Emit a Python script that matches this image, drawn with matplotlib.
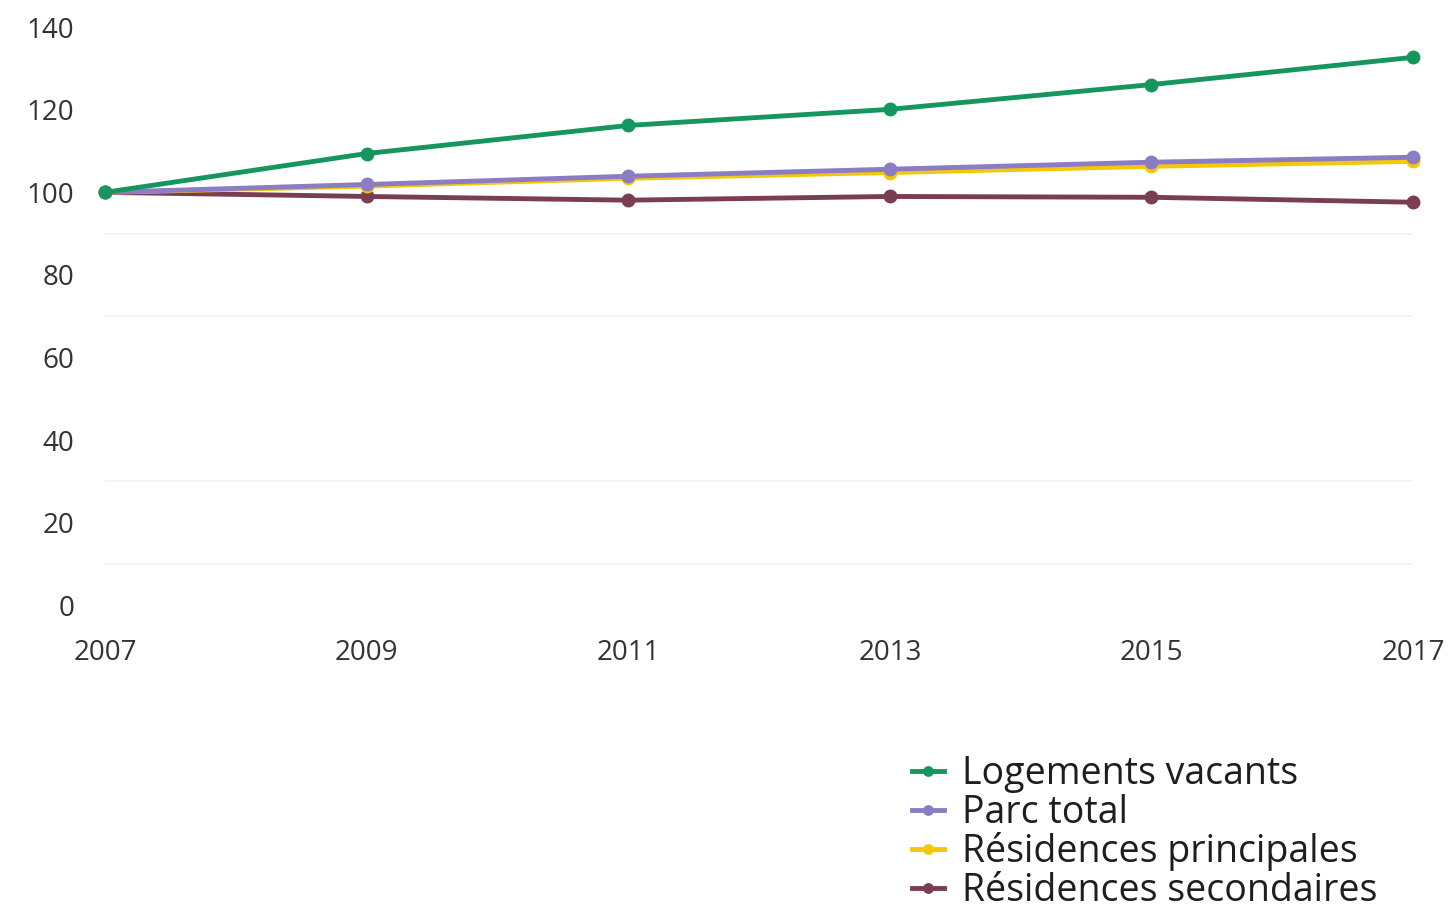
import matplotlib.pyplot as plt

years = [2007, 2009, 2011, 2013, 2015, 2017]
vacants = [100, 109.4, 116.2, 120.1, 126.1, 132.7]
parc_total = [100, 101.9, 103.9, 105.6, 107.3, 108.5]
principales = [100, 101.5, 103.4, 104.8, 106.3, 107.5]
secondaires = [100, 99.0, 98.1, 99.0, 98.8, 97.6]

series = [
    ("Logements vacants", vacants, "#16965f"),
    ("Parc total", parc_total, "#8b7cc4"),
    ("Résidences principales", principales, "#f5c70a"),
    ("Résidences secondaires", secondaires, "#7a3d52"),
]

plt.rcParams['font.family'] = ['Open Sans', 'DejaVu Sans']

fig = plt.figure(figsize=(14.49, 9.06), dpi=100)
ax = fig.add_axes([0.0725, 0.332, 0.9027, 0.638])

# faint background lines
for v in [90, 70, 30, 10]:
    ax.axhline(v, color='#f1f1f1', lw=1.2, zorder=0)

# drawn bottom-up so green sits on top
for name, vals, col in reversed(series):
    ax.plot(years, vals, color=col, lw=3.5, marker='o', ms=9,
            label=name, clip_on=False, zorder=3)

ax.set_xlim(2007, 2017)
ax.set_ylim(0, 140)
ax.set_xticks(years)
ax.set_yticks(range(0, 141, 20))
for s in ax.spines.values():
    s.set_visible(False)
ax.tick_params(length=0, labelsize=20, colors='#333333')
ax.tick_params(axis='y', pad=22)
ax.tick_params(axis='x', pad=24)

handles, labels = ax.get_legend_handles_labels()
leg = fig.legend(handles[::-1], labels[::-1], loc='upper left',
                 bbox_to_anchor=(0.6166, 0.1875), frameon=False,
                 fontsize=27, handlelength=0.85, handletextpad=0.48,
                 labelspacing=0.02, borderpad=0, markerscale=0.75)
for t in leg.get_texts():
    t.set_color('#1e1e1e')

fig.savefig('out.png', dpi=100, facecolor='white')
